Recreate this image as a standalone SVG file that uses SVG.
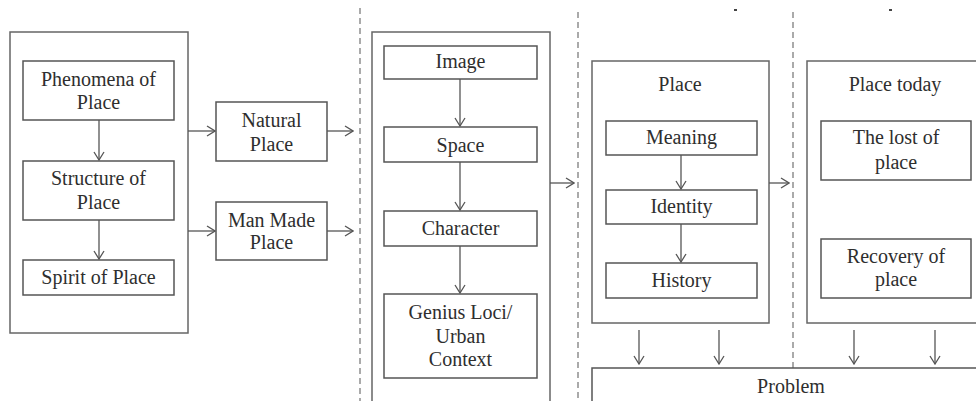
<svg xmlns="http://www.w3.org/2000/svg" width="976" height="401" viewBox="0 0 976 401">
<style>
.box{fill:#fff;stroke:#555;stroke-width:1.5}
.frame{fill:none;stroke:#666;stroke-width:1.5}
.t{font-family:'Liberation Serif','Times New Roman',serif;font-size:20px;fill:#2e2e2e;text-anchor:middle}
.c{stroke:#555;stroke-width:1.3;fill:none;marker-end:url(#ah)}
.dash{stroke:#aaa;stroke-width:2;stroke-dasharray:6,4;fill:none}
</style>
<defs>
<marker id="ah" viewBox="0 0 12 12" refX="11" refY="6" markerWidth="12" markerHeight="12" markerUnits="userSpaceOnUse" orient="auto">
<polyline points="3,1 11,6 3,11" fill="none" stroke="#555" stroke-width="1.3"/>
</marker>
</defs>
<rect width="976" height="401" fill="#fff"/>
<g id="dividers">
<line class="dash" x1="360" y1="8" x2="360" y2="401"/>
<line class="dash" x1="578" y1="12" x2="578" y2="401"/>
<line class="dash" x1="793" y1="12" x2="793" y2="368"/>
<rect x="734" y="9" width="3" height="2" fill="#444"/>
<rect x="889" y="9" width="3" height="2" fill="#444"/>
</g>
<g id="frames">
<rect class="frame" x="10" y="32" width="178" height="301"/>
<rect class="frame" x="372" y="32" width="178" height="380"/>
<rect class="frame" x="592" y="61" width="177" height="262"/>
<rect class="frame" x="807" y="61" width="180" height="262"/>
</g>
<g id="n-phenomena"><rect class="box" x="23" y="61" width="151" height="59"/><text class="t" x="98.5" y="86">Phenomena  of</text><text class="t" x="98.5" y="109">Place</text></g>
<g id="n-structure"><rect class="box" x="23" y="161" width="151" height="59"/><text class="t" x="98.5" y="185">Structure of</text><text class="t" x="98.5" y="209">Place</text></g>
<g id="n-spirit"><rect class="box" x="23" y="260" width="151" height="35"/><text class="t" x="98.5" y="284">Spirit of Place</text></g>
<g id="n-natural"><rect class="box" x="216" y="102" width="111" height="59"/><text class="t" x="271.5" y="127">Natural</text><text class="t" x="271.5" y="151">Place</text></g>
<g id="n-manmade"><rect class="box" x="216" y="202" width="111" height="58"/><text class="t" x="271.5" y="227">Man Made</text><text class="t" x="271.5" y="249">Place</text></g>
<g id="n-image"><rect class="box" x="384" y="46" width="153" height="33"/><text class="t" x="460.5" y="68">Image</text></g>
<g id="n-space"><rect class="box" x="384" y="127" width="153" height="35"/><text class="t" x="460.5" y="152">Space</text></g>
<g id="n-character"><rect class="box" x="384" y="211" width="153" height="35"/><text class="t" x="460.5" y="235">Character</text></g>
<g id="n-genius"><rect class="box" x="384" y="294" width="153" height="84"/><text class="t" x="460.5" y="319">Genius Loci/</text><text class="t" x="460.5" y="343">Urban</text><text class="t" x="460.5" y="366">Context</text></g>
<g id="n-place"><text class="t" x="680" y="91">Place</text></g>
<g id="n-meaning"><rect class="box" x="606" y="121" width="151" height="34"/><text class="t" x="681.5" y="144">Meaning</text></g>
<g id="n-identity"><rect class="box" x="606" y="190" width="151" height="34"/><text class="t" x="681.5" y="213">Identity</text></g>
<g id="n-history"><rect class="box" x="606" y="263" width="151" height="35"/><text class="t" x="681.5" y="287">History</text></g>
<g id="n-placetoday"><text class="t" x="895" y="91">Place today</text></g>
<g id="n-lost"><rect class="box" x="821" y="121" width="150" height="59"/><text class="t" x="896" y="144">The lost of</text><text class="t" x="896" y="169">place</text></g>
<g id="n-recovery"><rect class="box" x="821" y="239" width="150" height="59"/><text class="t" x="896" y="263">Recovery  of</text><text class="t" x="896" y="286">place</text></g>
<g id="n-problem"><rect class="box" x="592" y="368" width="400" height="50"/><text class="t" x="791" y="393">Problem</text></g>
<g id="connectors">
<line class="c" x1="99" y1="120" x2="99" y2="160"/>
<line class="c" x1="99" y1="220" x2="99" y2="259"/>
<line class="c" x1="188" y1="131" x2="215" y2="131"/>
<line class="c" x1="188" y1="231" x2="215" y2="231"/>
<line class="c" x1="327" y1="131" x2="353" y2="131"/>
<line class="c" x1="327" y1="231" x2="353" y2="231"/>
<line class="c" x1="460" y1="79" x2="460" y2="126"/>
<line class="c" x1="460" y1="162" x2="460" y2="210"/>
<line class="c" x1="460" y1="246" x2="460" y2="293"/>
<line class="c" x1="550" y1="183" x2="574" y2="183"/>
<line class="c" x1="681" y1="155" x2="681" y2="189"/>
<line class="c" x1="681" y1="224" x2="681" y2="262"/>
<line class="c" x1="769" y1="183" x2="789" y2="183"/>
<line class="c" x1="639" y1="330" x2="639" y2="364"/>
<line class="c" x1="719" y1="330" x2="719" y2="364"/>
<line class="c" x1="854" y1="330" x2="854" y2="364"/>
<line class="c" x1="935" y1="330" x2="935" y2="364"/>
</g>
</svg>
